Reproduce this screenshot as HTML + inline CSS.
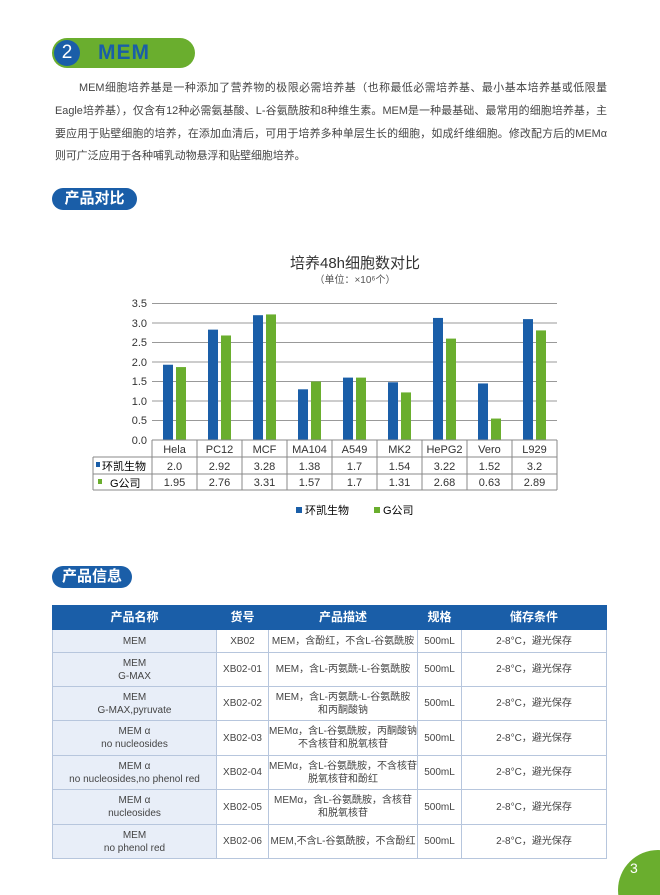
<!DOCTYPE html>
<html><head><meta charset="utf-8"><style>
html,body{margin:0;width:660px;height:895px;overflow:hidden}
body{background:#fff;position:relative;font-family:"Liberation Sans","Noto Sans CJK SC",sans-serif;color:#333}
.abs{position:absolute}
.ln{position:absolute;left:55px;width:552px;font-size:10.9px;color:#444;white-space:nowrap;text-align:justify;text-align-last:justify;line-height:16px}
.pill{position:absolute;background:#1a5ea8;color:#fff;font-weight:bold;font-size:15px;border-radius:12px;text-align:center;line-height:22px}
table{border-collapse:collapse;position:absolute;left:52px;top:605px;width:555px;font-size:10px;color:#444;table-layout:fixed}
td,th{border:1px solid #b7c6dd;text-align:center;padding:0;line-height:13px;white-space:nowrap;overflow:hidden}
th{background:#1a5ea8;color:#fff;font-size:12px;height:23px;border-color:#1a5ea8}
td.f{background:#e8eef8}
</style></head><body>
<div class="abs" style="left:52px;top:38px;width:143px;height:30px;background:#6aae2e;border-radius:15px"></div>
<div class="abs" style="left:54px;top:40px;width:26px;height:26px;background:#1a5ea8;border-radius:13px;color:#fff;font-size:19px;text-align:center;line-height:26px">2</div>
<div class="abs" style="left:98px;top:39px;color:#1a5ea8;font-size:21px;font-weight:bold;line-height:28px;letter-spacing:1px">MEM</div>
<div class="ln" style="top:80px;left:79px;width:528px">MEM细胞培养基是一种添加了营养物的极限必需培养基（也称最低必需培养基、最小基本培养基或低限量</div>
<div class="ln" style="top:103px">Eagle培养基），仅含有12种必需氨基酸、L-谷氨酰胺和8种维生素。MEM是一种最基础、最常用的细胞培养基，主</div>
<div class="ln" style="top:126px">要应用于贴壁细胞的培养，在添加血清后，可用于培养多种单层生长的细胞，如成纤维细胞。修改配方后的MEMα</div>
<div class="ln" style="top:148px;text-align-last:left">则可广泛应用于各种哺乳动物悬浮和贴壁细胞培养。</div>
<div class="pill" style="left:52px;top:188px;width:85px">产品对比</div>
<div class="pill" style="left:52px;top:566px;width:80px">产品信息</div>
<svg class="abs" style="left:0;top:0" width="660" height="560" font-family="Liberation Sans,Noto Sans CJK SC,sans-serif">
<text x="355" y="268" font-size="15" text-anchor="middle" fill="#333">培养48h细胞数对比</text>
<text x="355" y="283" font-size="10" text-anchor="middle" fill="#555">（单位：×10⁶个）</text>
<g stroke="#999" stroke-width="1">
<line x1="152" y1="303.5" x2="557" y2="303.5"/><line x1="152" y1="323" x2="557" y2="323"/><line x1="152" y1="342.5" x2="557" y2="342.5"/><line x1="152" y1="362" x2="557" y2="362"/><line x1="152" y1="381.5" x2="557" y2="381.5"/><line x1="152" y1="401" x2="557" y2="401"/><line x1="152" y1="420.5" x2="557" y2="420.5"/>
</g>
<g font-size="11" fill="#333" text-anchor="end"><text x="147" y="307">3.5</text><text x="147" y="327">3.0</text><text x="147" y="346">2.5</text><text x="147" y="366">2.0</text><text x="147" y="385">1.5</text><text x="147" y="405">1.0</text><text x="147" y="424">0.5</text><text x="147" y="444">0.0</text></g>
<g id="bars"></g>
<g stroke="#888" stroke-width="1" fill="none">
<line x1="152" y1="440" x2="557" y2="440"/><line x1="93" y1="457" x2="557" y2="457"/><line x1="93" y1="474" x2="557" y2="474"/><line x1="93" y1="490" x2="557" y2="490"/>
<line x1="93" y1="457" x2="93" y2="490"/>
<line x1="152" y1="440" x2="152" y2="490"/><line x1="197" y1="440" x2="197" y2="490"/><line x1="242" y1="440" x2="242" y2="490"/><line x1="287" y1="440" x2="287" y2="490"/><line x1="332" y1="440" x2="332" y2="490"/><line x1="377" y1="440" x2="377" y2="490"/><line x1="422" y1="440" x2="422" y2="490"/><line x1="467" y1="440" x2="467" y2="490"/><line x1="512" y1="440" x2="512" y2="490"/><line x1="557" y1="440" x2="557" y2="490"/>
</g>
<rect x="96" y="462" width="4" height="5" fill="#1a5ea8"/><text x="102" y="470" font-size="11">环凯生物</text>
<rect x="98" y="479" width="4" height="5" fill="#6aae2e"/><text x="110" y="487" font-size="11">G公司</text>
<g font-size="11" text-anchor="middle" fill="#333" id="tx"></g>
<rect x="296" y="507" width="6" height="6" fill="#1a5ea8"/><text x="305" y="514" font-size="11">环凯生物</text>
<rect x="374" y="507" width="6" height="6" fill="#6aae2e"/><text x="383" y="514" font-size="11">G公司</text>
</svg>
<script>
var c=["Hela","PC12","MCF","MA104","A549","MK2","HePG2","Vero","L929"],
a=["2.0","2.92","3.28","1.38","1.7","1.54","3.22","1.52","3.2"],
b=["1.95","2.76","3.31","1.57","1.7","1.31","2.68","0.63","2.89"],
hb=[1.93,2.83,3.2,1.3,1.6,1.48,3.13,1.45,3.1],hg=[1.87,2.68,3.22,1.5,1.6,1.22,2.6,0.55,2.81];
var s="",t="";
for(var i=0;i<9;i++){var x=152+45*i;
s+='<rect x="'+(x+11)+'" y="'+(440-hb[i]*39)+'" width="10" height="'+(hb[i]*39)+'" fill="#1a5ea8"/>';
s+='<rect x="'+(x+24)+'" y="'+(440-hg[i]*39)+'" width="10" height="'+(hg[i]*39)+'" fill="#6aae2e"/>';
t+='<text x="'+(x+22.5)+'" y="453">'+c[i]+'</text><text x="'+(x+22.5)+'" y="470">'+a[i]+'</text><text x="'+(x+22.5)+'" y="486">'+b[i]+'</text>';}
document.getElementById("bars").innerHTML=s;document.getElementById("tx").innerHTML=t;
</script>
<table>
<colgroup><col style="width:164px"><col style="width:52px"><col style="width:149px"><col style="width:44px"><col></colgroup>
<tr><th>产品名称</th><th>货号</th><th>产品描述</th><th>规格</th><th>储存条件</th></tr>
<tr style="height:23px"><td class="f">MEM</td><td>XB02</td><td>MEM，含酚红，不含L-谷氨酰胺</td><td>500mL</td><td>2-8°C，避光保存</td></tr>
<tr style="height:34px"><td class="f">MEM<br>G-MAX</td><td>XB02-01</td><td>MEM，含L-丙氨酰-L-谷氨酰胺</td><td>500mL</td><td>2-8°C，避光保存</td></tr>
<tr style="height:34px"><td class="f">MEM<br>G-MAX,pyruvate</td><td>XB02-02</td><td>MEM，含L-丙氨酰-L-谷氨酰胺<br>和丙酮酸钠</td><td>500mL</td><td>2-8°C，避光保存</td></tr>
<tr style="height:35px"><td class="f">MEM α<br>no nucleosides</td><td>XB02-03</td><td>MEMα，含L-谷氨酰胺，丙酮酸钠，<br>不含核苷和脱氧核苷</td><td>500mL</td><td>2-8°C，避光保存</td></tr>
<tr style="height:34px"><td class="f">MEM α<br>no nucleosides,no phenol red</td><td>XB02-04</td><td>MEMα，含L-谷氨酰胺，不含核苷、<br>脱氧核苷和酚红</td><td>500mL</td><td>2-8°C，避光保存</td></tr>
<tr style="height:35px"><td class="f">MEM α<br>nucleosides</td><td>XB02-05</td><td>MEMα，含L-谷氨酰胺，含核苷<br>和脱氧核苷</td><td>500mL</td><td>2-8°C，避光保存</td></tr>
<tr style="height:34px"><td class="f">MEM<br>no phenol red</td><td>XB02-06</td><td>MEM,不含L-谷氨酰胺，不含酚红</td><td>500mL</td><td>2-8°C，避光保存</td></tr>
</table>
<div class="abs" style="left:618px;top:850px;width:80px;height:80px;border-radius:40px;background:#6aae2e"></div>
<div class="abs" style="left:630px;top:860px;color:#fff;font-size:14px">3</div>
</body></html>
